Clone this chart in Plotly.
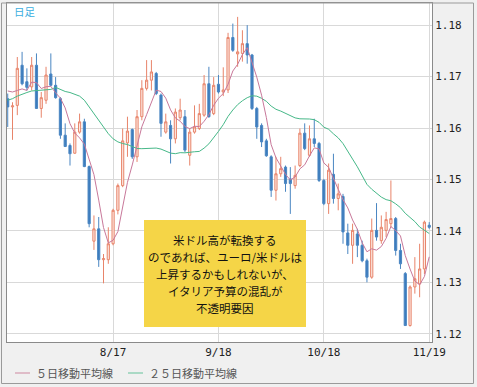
import pandas as pd
import plotly.graph_objects as go

# ---- data (EUR/USD daily) ----
dates = [d.strftime("%Y-%m-%d") for d in pd.bdate_range("2018-07-18", "2018-11-19")]

open_ = [1.1657, 1.1641, 1.1644, 1.1722, 1.1690, 1.1680, 1.1722, 1.1638, 1.1654, 1.1705,
         1.1683, 1.1657, 1.1586, 1.1566, 1.1551, 1.1592, 1.1612, 1.1525, 1.1380, 1.1404,
         1.1344, 1.1344, 1.1375, 1.1440, 1.1488, 1.1571, 1.1597, 1.1544, 1.1622, 1.1677,
         1.1693, 1.1706, 1.1664, 1.1592, 1.1605, 1.1579, 1.1620, 1.1622, 1.1547, 1.1592,
         1.1599, 1.1625, 1.1686, 1.1628, 1.1685, 1.1670, 1.1674, 1.1776, 1.1744, 1.1745,
         1.1764, 1.1742, 1.1638, 1.1605, 1.1575, 1.1544, 1.1479, 1.1511, 1.1524, 1.1501,
         1.1488, 1.1527, 1.1590, 1.1547, 1.1579, 1.1570, 1.1498, 1.1453, 1.1510, 1.1463,
         1.1467, 1.1396, 1.1372, 1.1394, 1.1372, 1.1342, 1.1310, 1.1401, 1.1381, 1.1401,
         1.1414, 1.1424, 1.1362, 1.1317, 1.1216, 1.1291, 1.1297, 1.1326, 1.1411]
high_ = [1.1667, 1.1650, 1.1738, 1.1748, 1.1716, 1.1738, 1.1745, 1.1670, 1.1719, 1.1745,
         1.1699, 1.1660, 1.1609, 1.1570, 1.1609, 1.1628, 1.1618, 1.1527, 1.1430, 1.1427,
         1.1355, 1.1407, 1.1443, 1.1492, 1.1599, 1.1622, 1.1599, 1.1635, 1.1693, 1.1732,
         1.1732, 1.1709, 1.1667, 1.1628, 1.1615, 1.1638, 1.1657, 1.1635, 1.1599, 1.1644,
         1.1647, 1.1703, 1.1719, 1.1699, 1.1703, 1.1718, 1.1785, 1.1803, 1.1816, 1.1790,
         1.1800, 1.1744, 1.1641, 1.1609, 1.1579, 1.1547, 1.1544, 1.1544, 1.1527, 1.1524,
         1.1527, 1.1599, 1.1609, 1.1605, 1.1618, 1.1573, 1.1501, 1.1531, 1.1550, 1.1492,
         1.1472, 1.1414, 1.1414, 1.1404, 1.1381, 1.1346, 1.1424, 1.1454, 1.1430, 1.1437,
         1.1498, 1.1427, 1.1375, 1.1320, 1.1294, 1.1349, 1.1375, 1.1420, 1.1417]
low_ = [1.1602, 1.1577, 1.1625, 1.1683, 1.1673, 1.1673, 1.1638, 1.1620, 1.1647, 1.1681,
        1.1657, 1.1579, 1.1563, 1.1527, 1.1550, 1.1589, 1.1524, 1.1407, 1.1363, 1.1330,
        1.1298, 1.1336, 1.1372, 1.1432, 1.1485, 1.1544, 1.1540, 1.1534, 1.1615, 1.1673,
        1.1673, 1.1664, 1.1583, 1.1589, 1.1531, 1.1570, 1.1615, 1.1553, 1.1527, 1.1589,
        1.1596, 1.1622, 1.1620, 1.1625, 1.1667, 1.1662, 1.1668, 1.1748, 1.1719, 1.1729,
        1.1725, 1.1635, 1.1579, 1.1563, 1.1544, 1.1466, 1.1459, 1.1505, 1.1476, 1.1433,
        1.1482, 1.1524, 1.1557, 1.1544, 1.1563, 1.1495, 1.1450, 1.1433, 1.1453, 1.1440,
        1.1375, 1.1355, 1.1336, 1.1349, 1.1339, 1.1300, 1.1307, 1.1381, 1.1375, 1.1388,
        1.1407, 1.1352, 1.1326, 1.1216, 1.1214, 1.1278, 1.1271, 1.1316, 1.1404]
close_ = [1.1641, 1.1643, 1.1716, 1.1686, 1.1679, 1.1722, 1.1638, 1.1659, 1.1703, 1.1683,
          1.1659, 1.1586, 1.1564, 1.1550, 1.1592, 1.1612, 1.1525, 1.1414, 1.1404, 1.1344,
          1.1346, 1.1375, 1.1440, 1.1488, 1.1575, 1.1594, 1.1544, 1.1622, 1.1677, 1.1693,
          1.1709, 1.1667, 1.1609, 1.1612, 1.1579, 1.1631, 1.1635, 1.1557, 1.1592, 1.1602,
          1.1628, 1.1686, 1.1622, 1.1683, 1.1670, 1.1674, 1.1776, 1.1751, 1.1748, 1.1764,
          1.1742, 1.1638, 1.1602, 1.1573, 1.1546, 1.1479, 1.1511, 1.1521, 1.1492, 1.1492,
          1.1508, 1.1590, 1.1560, 1.1579, 1.1570, 1.1498, 1.1453, 1.1518, 1.1463, 1.1472,
          1.1398, 1.1372, 1.1401, 1.1372, 1.1342, 1.1310, 1.1401, 1.1388, 1.1407, 1.1422,
          1.1424, 1.1362, 1.1336, 1.1216, 1.1291, 1.1307, 1.1326, 1.1417, 1.1407]

# moving-average values before enough visible closes exist
ma5_head = [1.1672, 1.1670, 1.1673, 1.1676]
ma25_head = [1.1654, 1.1657, 1.1662, 1.1666, 1.1669, 1.1672, 1.1673, 1.1673, 1.1675, 1.1675,
             1.1679, 1.1675, 1.1671, 1.1669, 1.1666, 1.1662, 1.1654, 1.1641, 1.1628, 1.1615,
             1.1602, 1.1589, 1.1579, 1.1573]

tick_dates = ["2018-08-17", "2018-09-18", "2018-10-18", "2018-11-19"]
tick_text = ["8/17", "9/18", "10/18", "11/19"]
y_ticks = [1.12, 1.13, 1.14, 1.15, 1.16, 1.17, 1.18]

note_lines = ["米ドル高が転換する", "のであれば、ユーロ/米ドルは", "上昇するかもしれないが、",
              "イタリア予算の混乱が", "不透明要因"]
legend_labels = ["５日移動平均線", "２５日移動平均線"]

closes = pd.Series(close_)
ma5 = ma5_head + list(closes.rolling(5).mean().iloc[len(ma5_head):])
ma25 = ma25_head + list(closes.rolling(25).mean().iloc[len(ma25_head):])

C5 = "#c8789a"
C25 = "#46b888"

fig = go.Figure()
fig.add_trace(go.Candlestick(
    x=dates, open=open_, high=high_, low=low_, close=close_,
    increasing=dict(line=dict(color="#e8846a", width=1), fillcolor="#fce8e1"),
    decreasing=dict(line=dict(color="#4a86c2", width=1), fillcolor="#3b7bbd"),
    whiskerwidth=0, showlegend=False, hoverinfo="skip"))
fig.add_trace(go.Scatter(x=dates, y=ma25, mode="lines", line=dict(color=C25, width=1),
                         showlegend=False, hoverinfo="skip"))
fig.add_trace(go.Scatter(x=dates, y=ma5, mode="lines", line=dict(color=C5, width=1),
                         showlegend=False, hoverinfo="skip"))

# plot-area geometry in pixels (for paper coordinates)
L, R, T, B = 7, 432, 3, 342
W, H = R - L, B - T
def px(x):
    return (x - L) / W
def py(y):
    return (B - y) / H

shapes = []
annotations = []
# yellow note box
shapes.append(dict(type="rect", xref="paper", yref="paper", x0=px(144), x1=px(306),
                   y0=py(327), y1=py(220), fillcolor="#f5d547", line=dict(width=0), layer="above"))
for k, line in enumerate(note_lines):
    annotations.append(dict(xref="paper", yref="paper", x=px(225), y=py(239.5 + 17 * k),
                            text=line, showarrow=False, xanchor="center", yanchor="middle",
                            font=dict(family="Noto Sans CJK JP", size=11.5, color="#111")))
# 日足 label
annotations.append(dict(xref="paper", yref="paper", x=px(12), y=py(11.5), text="日足",
                        showarrow=False, xanchor="left", yanchor="middle",
                        font=dict(family="Noto Sans CJK JP", size=10.5, color="#3aaee0")))
# manual legend
for (x0, x1, tx), lab, col in zip([(15, 30, 34), (128, 143, 147)], legend_labels,
                                   ["#d49aae", "#7ccaa8"]):
    shapes.append(dict(type="line", xref="paper", yref="paper", x0=px(x0), x1=px(x1),
                       y0=py(373), y1=py(373), line=dict(color=col, width=1.2)))
    annotations.append(dict(xref="paper", yref="paper", x=px(tx), y=py(373), text=lab,
                            showarrow=False, xanchor="left", yanchor="middle",
                            font=dict(family="Noto Sans CJK JP", size=11, color="#555")))
# outer frame
shapes.append(dict(type="rect", xref="paper", yref="paper", x0=px(1.5), x1=px(473.5),
                   y0=py(383.5), y1=py(3), line=dict(color="#9a9a9a", width=1),
                   fillcolor="rgba(0,0,0,0)", layer="above"))

fig.update_layout(
    width=477, height=387,
    margin=dict(l=L, r=477 - R, t=T, b=387 - B),
    paper_bgcolor="#f0f0f0", plot_bgcolor="white",
    boxgap=0.35,
    shapes=shapes, annotations=annotations,
    xaxis=dict(type="category", range=[-0.15, 88.58], tickvals=tick_dates, ticktext=tick_text,
               showgrid=True, gridcolor="#d9d9d9", gridwidth=1, ticks="",
               showline=True, linecolor="#8a8a8a", mirror=True, linewidth=1,
               rangeslider=dict(visible=False), automargin=False,
               tickfont=dict(family="DejaVu Sans Mono", size=11, color="#222")),
    yaxis=dict(side="right", range=[1.1184, 1.1843], tickvals=y_ticks,
               ticktext=[f"{v:.2f}" for v in y_ticks], automargin=False,
               showgrid=True, gridcolor="#d9d9d9", gridwidth=1, ticks="", zeroline=False,
               showline=True, linecolor="#8a8a8a", mirror=True, linewidth=1,
               tickfont=dict(family="DejaVu Sans Mono", size=11, color="#222")),
)

fig.write_html("out.html", config={"displayModeBar": False},
               post_script="document.body.style.margin='0';document.body.style.overflow='hidden';")
